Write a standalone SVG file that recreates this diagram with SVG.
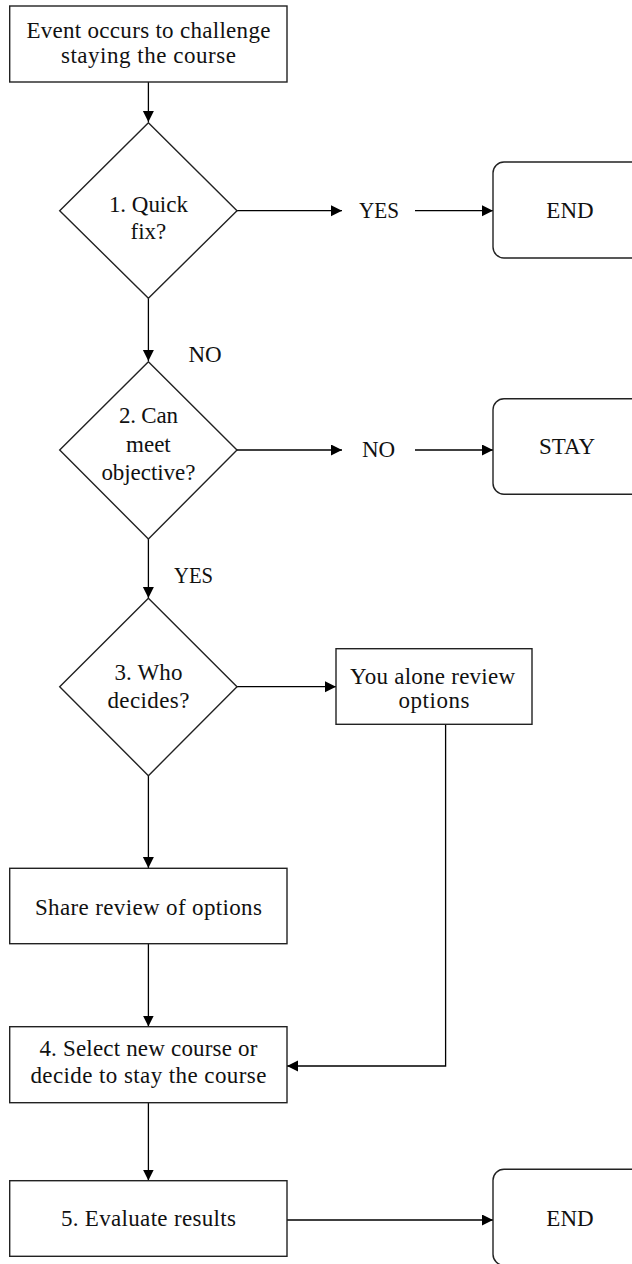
<svg xmlns="http://www.w3.org/2000/svg" width="632" height="1264" viewBox="0 0 632 1264">
<style>
.n{fill:#fff;stroke:#222;stroke-width:1.4}
.c{fill:none;stroke:#000;stroke-width:1.3}
text{font-family:"Liberation Serif","Times New Roman",serif;font-size:23px;fill:#111;text-anchor:middle}
</style>
<defs>
<marker id="ah" markerUnits="userSpaceOnUse" markerWidth="12" markerHeight="12" refX="11" refY="5.5" orient="auto">
<path d="M0,0 L11,5.5 L0,11 z" fill="#000"/>
</marker>
</defs>
<rect width="632" height="1264" fill="#fff"/>
<g id="connectors">
<path class="c" d="M148.4,82 V122" marker-end="url(#ah)"/>
<path class="c" d="M237,210.7 H342" marker-end="url(#ah)"/>
<path class="c" d="M415,210.7 H493" marker-end="url(#ah)"/>
<path class="c" d="M148.4,298.3 V361" marker-end="url(#ah)"/>
<path class="c" d="M237,450 H342" marker-end="url(#ah)"/>
<path class="c" d="M415,450 H493" marker-end="url(#ah)"/>
<path class="c" d="M148.4,539 V598" marker-end="url(#ah)"/>
<path class="c" d="M237,686.7 H336" marker-end="url(#ah)"/>
<path class="c" d="M148.4,775.7 V868" marker-end="url(#ah)"/>
<path class="c" d="M148.4,943.7 V1026.5" marker-end="url(#ah)"/>
<path class="c" d="M445.6,724.3 V1066 H287" marker-end="url(#ah)"/>
<path class="c" d="M148.4,1102.7 V1180.5" marker-end="url(#ah)"/>
<path class="c" d="M287,1220 H493" marker-end="url(#ah)"/>
<text x="379" y="218.3" textLength="40" lengthAdjust="spacingAndGlyphs">YES</text>
<text x="205" y="362.3">NO</text>
<text x="378.6" y="457.3">NO</text>
<text x="193.5" y="583.3" textLength="39" lengthAdjust="spacingAndGlyphs">YES</text>
</g>
<g id="start">
<rect class="n" x="9.7" y="6" width="277.3" height="76"/>
<text x="148.4" y="38" textLength="244" lengthAdjust="spacing">Event occurs to challenge</text>
<text x="148.4" y="62.5" textLength="175" lengthAdjust="spacing">staying the course</text>
</g>
<g id="d1">
<polygon class="n" points="148.4,122.7 237,210.7 148.4,298.3 59.7,210.7"/>
<text x="148.4" y="211.7" textLength="79" lengthAdjust="spacing">1. Quick</text>
<text x="148.4" y="239.3">fix?</text>
</g>
<g id="end1">
<rect class="n" x="493" y="162" width="160" height="96" rx="11"/>
<text x="570" y="218.3">END</text>
</g>
<g id="d2">
<polygon class="n" points="148.4,361.7 237,450 148.4,539 59.7,450"/>
<text x="148.4" y="423.3" textLength="59" lengthAdjust="spacing">2. Can</text>
<text x="148.4" y="451.7">meet</text>
<text x="148.4" y="480" textLength="94" lengthAdjust="spacing">objective?</text>
</g>
<g id="stay">
<rect class="n" x="493" y="398.7" width="160" height="95.6" rx="11"/>
<text x="567" y="454">STAY</text>
</g>
<g id="d3">
<polygon class="n" points="148.4,598.3 237,686.7 148.4,775.7 59.7,686.7"/>
<text x="148.4" y="680" textLength="68" lengthAdjust="spacing">3. Who</text>
<text x="148.4" y="707.7" textLength="82" lengthAdjust="spacing">decides?</text>
</g>
<g id="alone">
<rect class="n" x="336" y="648.7" width="196" height="75.6"/>
<text x="432.6" y="684" textLength="165" lengthAdjust="spacing">You alone review</text>
<text x="434" y="708.3" textLength="71" lengthAdjust="spacing">options</text>
</g>
<g id="share">
<rect class="n" x="9.7" y="868.3" width="277.3" height="75.4"/>
<text x="148.4" y="915" textLength="227" lengthAdjust="spacing">Share review of options</text>
</g>
<g id="select">
<rect class="n" x="9.7" y="1026.7" width="277.3" height="76"/>
<text x="148.4" y="1055.7" textLength="218" lengthAdjust="spacing">4. Select new course or</text>
<text x="148.4" y="1083.3" textLength="236" lengthAdjust="spacing">decide to stay the course</text>
</g>
<g id="evaluate">
<rect class="n" x="9.7" y="1180.7" width="277.3" height="75.6"/>
<text x="148.4" y="1225.7" textLength="175" lengthAdjust="spacing">5. Evaluate results</text>
</g>
<g id="end2">
<rect class="n" x="493" y="1169.3" width="160" height="96" rx="11"/>
<text x="570" y="1225.7">END</text>
</g>
</svg>
